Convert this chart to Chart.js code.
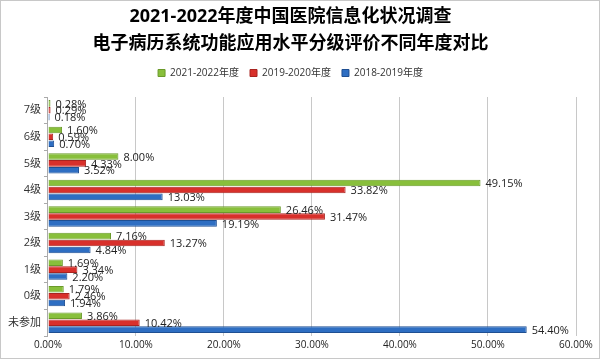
<!DOCTYPE html>
<html>
<head>
<meta charset="utf-8">
<script src="https://cdn.jsdelivr.net/npm/chart.js@4/dist/chart.umd.min.js"></script>
<style>
  html, body { margin: 0; padding: 0; background: #fff; }
  #wrap { width: 600px; height: 359px; box-sizing: border-box; border: 1px solid #c8c8c8; }
  canvas { display: block; }
</style>
</head>
<body>
<div id="wrap"><canvas id="levelChart" width="598" height="357"></canvas></div>
<script>
const categories = ['7级', '6级', '5级', '4级', '3级', '2级', '1级', '0级', '未参加'];
const seriesNames = ['2021-2022年度', '2019-2020年度', '2018-2019年度'];
const values2122 = [0.28, 1.60, 8.00, 49.15, 26.46, 7.16, 1.69, 1.79, 3.86];
const values1920 = [0.29, 0.59, 4.33, 33.82, 31.47, 13.27, 3.34, 2.46, 10.42];
const values1819 = [0.18, 0.70, 3.52, 13.03, 19.19, 4.84, 2.20, 1.94, 54.40];
const xTicks = [0, 10, 20, 30, 40, 50, 60];

const FONT = "'Open Sans', 'Noto Sans CJK SC', sans-serif";

// draws the percent text right after each bar end
const barLabels = {
  id: 'barLabels',
  afterDatasetsDraw(chart) {
    const ctx = chart.ctx;
    ctx.save();
    ctx.font = '11px ' + FONT;
    ctx.fillStyle = '#222';
    ctx.textAlign = 'left';
    ctx.textBaseline = 'middle';
    chart.data.datasets.forEach((ds, i) => {
      chart.getDatasetMeta(i).data.forEach((bar, j) => {
        ctx.fillText(ds.data[j].toFixed(2) + '%', bar.x + 5, bar.y + 1);
      });
    });
    ctx.restore();
  }
};

// extra room under the legend
const legendGap = {
  id: 'legendGap',
  beforeInit(chart) {
    const fit = chart.legend.fit;
    chart.legend.fit = function () {
      fit.bind(chart.legend)();
      this.height += 9;
    };
  }
};

const ctx = document.getElementById('levelChart').getContext('2d');
new Chart(ctx, {
  type: 'bar',
  data: {
    labels: categories,
    datasets: [
      { label: seriesNames[0], data: values2122, backgroundColor: '#88bf3b', borderColor: '#6a9a2a', borderWidth: 1 },
      { label: seriesNames[1], data: values1920, backgroundColor: '#d8302b', borderColor: '#a82420', borderWidth: 1 },
      { label: seriesNames[2], data: values1819, backgroundColor: '#2e6ec2', borderColor: '#1f4f92', borderWidth: 1 }
    ]
  },
  options: {
    indexAxis: 'y',
    responsive: false,
    animation: false,
    categoryPercentage: 0.78,
    barPercentage: 0.95,
    layout: { padding: { left: 4, right: 23, top: 0, bottom: 4 } },
    plugins: {
      title: {
        display: true,
        text: ['2021-2022年度中国医院信息化状况调查', '电子病历系统功能应用水平分级评价不同年度对比'],
        color: '#000',
        font: { family: FONT, size: 18, weight: 'bold', lineHeight: 1.5 },
        padding: { top: 2, bottom: 0 }
      },
      legend: {
        position: 'top',
        labels: {
          boxWidth: 7,
          boxHeight: 7,
          color: '#333',
          font: { family: FONT, size: 10 },
          padding: 11
        }
      },
      tooltip: { enabled: false }
    },
    scales: {
      x: {
        min: 0,
        max: 60,
        afterBuildTicks: axis => { axis.ticks = xTicks.map(v => ({ value: v })); },
        ticks: {
          color: '#222',
          font: { family: FONT, size: 10 },
          callback: v => v.toFixed(2) + '%'
        },
        grid: { color: '#c8c8c8', drawTicks: false },
        border: { display: false }
      },
      y: {
        ticks: { color: '#333', font: { family: FONT, size: 11 }, padding: 3 },
        grid: { drawOnChartArea: false, drawTicks: true, tickLength: 4, color: '#aaa' },
        border: { display: true, color: '#aaa' }
      }
    }
  },
  plugins: [barLabels, legendGap]
});
</script>
</body>
</html>
